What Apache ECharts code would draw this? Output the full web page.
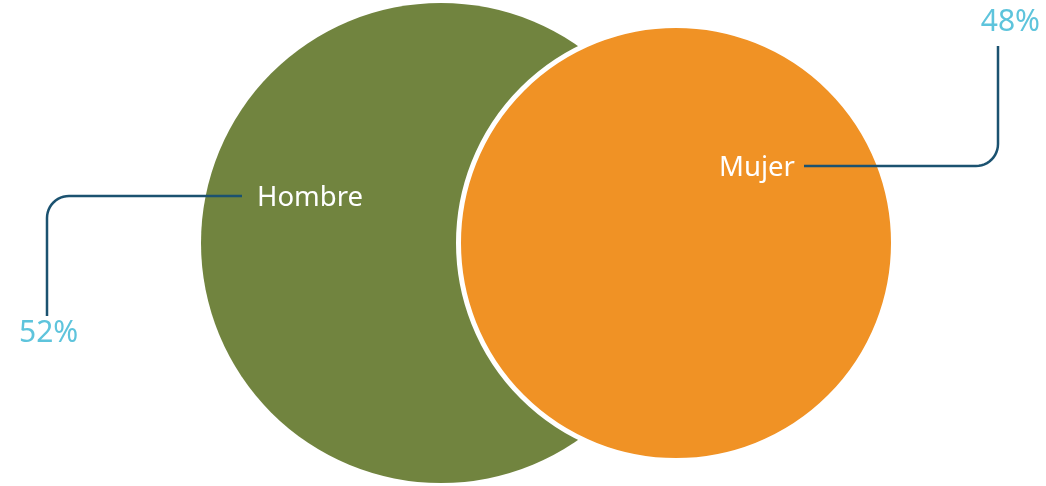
<!DOCTYPE html>
<html>
<head>
<meta charset="utf-8">
<script src="https://cdn.jsdelivr.net/npm/echarts@6/dist/echarts.min.js"></script>
<style>
  html, body { margin: 0; padding: 0; background: #ffffff; }
  #chart { width: 1046px; height: 486px; }
</style>
</head>
<body>
<div id="chart"></div>
<script>
// ---- Data ----
const categories = ['Hombre', 'Mujer'];
const values = [52, 48];
const percentLabels = values.map(v => v + '%');

// ---- Layout / style (not data) ----
const layout = [
  { cx: 441, cy: 243, r: 240, fill: '#71843F', border: 0,
    labelX: 257, labelY: 198, labelAlign: 'left',
    lineStart: [242, 196], corner: [47, 196], lineEnd: [47, 316], cornerR: 22,
    pctX: 19, pctY: 333, pctAlign: 'left' },
  { cx: 676, cy: 243, r: 217.5, fill: '#F09225', border: 5,
    labelX: 719, labelY: 168, labelAlign: 'left',
    lineStart: [804, 166], corner: [998, 166], lineEnd: [998, 46], cornerR: 22,
    pctX: 1040, pctY: 22, pctAlign: 'right' }
];
const FONT = '"Noto Sans", "Open Sans", sans-serif';
const LINE_COLOR = '#1B5270';
const PCT_COLOR = '#5EC4DC';

function leaderPoints(api, L) {
  const s = L.lineStart, c = L.corner, e = L.lineEnd, R = L.cornerR;
  const dx = Math.sign(s[0] - c[0]);
  const dy = Math.sign(e[1] - c[1]);
  const pts = [s, [c[0] + dx * R, c[1]]];
  const acx = c[0] + dx * R, acy = c[1] + dy * R;
  const steps = 12;
  for (let k = 1; k < steps; k++) {
    const t = (k / steps) * Math.PI / 2;
    pts.push([acx - dx * R * Math.sin(t), acy - dy * R * Math.cos(t)]);
  }
  pts.push([c[0], c[1] + dy * R]);
  pts.push(e);
  return pts.map(p => api.coord(p));
}

const chart = echarts.init(document.getElementById('chart'), null, { renderer: 'canvas' });

chart.setOption({
  animation: false,
  backgroundColor: '#ffffff',
  grid: { left: 0, right: 0, top: 0, bottom: 0 },
  xAxis: { type: 'value', min: 0, max: 1046, show: false },
  yAxis: { type: 'value', min: 0, max: 486, inverse: true, show: false },
  series: [{
    type: 'custom',
    coordinateSystem: 'cartesian2d',
    data: values.map((v, i) => [i, v]),
    renderItem: function (params, api) {
      const i = params.dataIndex;
      const L = layout[i];
      const c = api.coord([L.cx, L.cy]);
      const r = api.size([L.r, 0])[0];
      const lab = api.coord([L.labelX, L.labelY]);
      const pct = api.coord([L.pctX, L.pctY]);
      return {
        type: 'group',
        children: [
          {
            type: 'circle',
            shape: { cx: c[0], cy: c[1], r: r },
            style: {
              fill: L.fill,
              stroke: L.border ? '#ffffff' : null,
              lineWidth: L.border
            }
          },
          {
            type: 'polyline',
            shape: { points: leaderPoints(api, L) },
            style: { stroke: LINE_COLOR, lineWidth: 2.5, fill: null }
          },
          {
            type: 'text',
            style: {
              x: lab[0], y: lab[1],
              text: categories[i],
              fill: '#ffffff',
              font: '27.5px ' + FONT,
              textAlign: L.labelAlign,
              textVerticalAlign: 'middle'
            }
          },
          {
            type: 'text',
            style: {
              x: pct[0], y: pct[1],
              text: percentLabels[i],
              fill: PCT_COLOR,
              font: '30px ' + FONT,
              textAlign: L.pctAlign,
              textVerticalAlign: 'middle'
            }
          }
        ]
      };
    }
  }]
});
</script>
</body>
</html>
